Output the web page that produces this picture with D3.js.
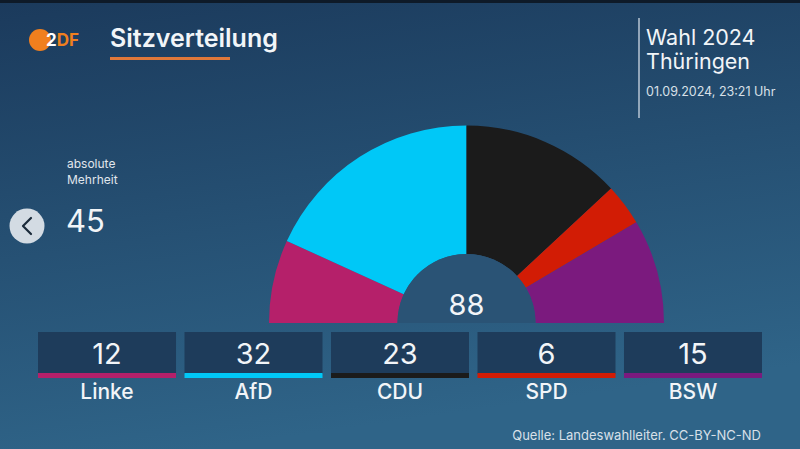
<!DOCTYPE html>
<html>
<head>
<meta charset="utf-8">
<script src="https://cdn.jsdelivr.net/npm/d3@7"></script>
<style>
  html, body { margin: 0; padding: 0; overflow: hidden; }
  body { width: 800px; height: 449px; font-family: Inter, "Noto Sans", sans-serif; }
</style>
</head>
<body>
<div id="chart"></div>
<script>
// Data
const parties = ["Linke", "AfD", "CDU", "SPD", "BSW"];
const seats = [12, 32, 23, 6, 15];
const partyColors = ["#b5206a", "#00c8f7", "#1b1b1b", "#d21c05", "#7b1a7e"];
const totalSeats = 88;
const majority = 45;

const width = 800, height = 449;

const svg = d3.select("#chart").append("svg")
    .attr("width", width)
    .attr("height", height);

// Background gradient
const defs = svg.append("defs");
const grad = defs.append("linearGradient")
    .attr("id", "bg")
    .attr("x1", 0).attr("y1", 0).attr("x2", 0.25).attr("y2", 1);
grad.append("stop").attr("offset", "0%").attr("stop-color", "#1b3a5c");
grad.append("stop").attr("offset", "100%").attr("stop-color", "#2f6488");

svg.append("rect").attr("width", width).attr("height", height).attr("fill", "url(#bg)");
svg.append("rect").attr("width", width).attr("height", 3).attr("fill", "#0e1a28");

// Header: logo + title
svg.append("circle").attr("cx", 40).attr("cy", 40).attr("r", 11).attr("fill", "#f07f1e");
svg.append("text")
    .attr("x", 46).attr("y", 46)
    .attr("font-size", 17).attr("font-weight", 700)
    .attr("fill", "#f07f1e")
    .attr("letter-spacing", 0)
    .call(t => {
        t.append("tspan").attr("fill", "#ffffff").text("2");
        t.append("tspan").text("DF");
    });

svg.append("text")
    .attr("x", 110).attr("y", 47)
    .attr("font-size", 25).attr("font-weight", 600)
    .attr("fill", "#f2f5f8")
    .text("Sitzverteilung");
svg.append("rect")
    .attr("x", 110).attr("y", 57).attr("width", 120).attr("height", 3)
    .attr("fill", "#e0783a");

// Right header
svg.append("line")
    .attr("x1", 639).attr("x2", 639).attr("y1", 18).attr("y2", 118)
    .attr("stroke", "#b8c6d4").attr("stroke-width", 1.5);
svg.append("text").attr("x", 646).attr("y", 45)
    .attr("font-size", 21.5).attr("fill", "#f2f5f8").text("Wahl 2024");
svg.append("text").attr("x", 646).attr("y", 69)
    .attr("font-size", 21.5).attr("fill", "#f2f5f8").text("Thüringen");
svg.append("text").attr("x", 646).attr("y", 96)
    .attr("font-size", 12.5).attr("fill", "#d8e0e8").text("01.09.2024, 23:21 Uhr");

// Majority info
svg.append("text").attr("x", 67).attr("y", 168)
    .attr("font-size", 12).attr("fill", "#e0e6ec").text("absolute");
svg.append("text").attr("x", 67).attr("y", 184)
    .attr("font-size", 12).attr("fill", "#e0e6ec").text("Mehrheit");
svg.append("text").attr("x", 66).attr("y", 232)
    .attr("font-size", 31).attr("fill", "#f2f5f8").text(majority);

// Back button
svg.append("circle").attr("cx", 27).attr("cy", 226).attr("r", 17.5).attr("fill", "#d3dbe3");
svg.append("path")
    .attr("d", "M31,218 L23,226 L31,234")
    .attr("fill", "none").attr("stroke", "#1a2a3a").attr("stroke-width", 2.2)
    .attr("stroke-linecap", "round").attr("stroke-linejoin", "round");

// Half donut
const cx = 466.5, cy = 323;
const outerR = 197.5, innerR = 69;

const pie = d3.pie()
    .sort(null)
    .value(d => d)
    .startAngle(-Math.PI / 2)
    .endAngle(Math.PI / 2);

const arc = d3.arc().innerRadius(innerR).outerRadius(outerR);

const g = svg.append("g").attr("transform", `translate(${cx},${cy})`);
g.selectAll("path")
    .data(pie(seats))
    .join("path")
    .attr("d", arc)
    .attr("fill", (d, i) => partyColors[i]);

g.append("path")
    .attr("d", d3.arc().innerRadius(0).outerRadius(innerR)
        .startAngle(-Math.PI / 2).endAngle(Math.PI / 2)())
    .attr("fill", "#2a5375");

g.append("text")
    .attr("x", 0).attr("y", -8)
    .attr("text-anchor", "middle")
    .attr("font-size", 29).attr("fill", "#f2f5f8")
    .text(totalSeats);

// Party boxes
const x = d3.scaleBand()
    .domain(parties)
    .range([38, 762])
    .paddingInner(0.058);

const box = svg.append("g").selectAll("g")
    .data(parties)
    .join("g")
    .attr("transform", d => `translate(${x(d)},0)`);

box.append("rect")
    .attr("y", 332).attr("width", x.bandwidth()).attr("height", 42)
    .attr("fill", "#1e3c5b");
box.append("rect")
    .attr("y", 373).attr("width", x.bandwidth()).attr("height", 5)
    .attr("fill", (d, i) => partyColors[i]);
box.append("text")
    .attr("x", x.bandwidth() / 2).attr("y", 364)
    .attr("text-anchor", "middle")
    .attr("font-size", 29).attr("fill", "#f2f5f8")
    .text((d, i) => seats[i]);
box.append("text")
    .attr("x", x.bandwidth() / 2).attr("y", 399)
    .attr("text-anchor", "middle")
    .attr("font-size", 21).attr("font-weight", 500).attr("fill", "#f2f5f8")
    .text(d => d);

// Source
svg.append("text")
    .attr("x", 761).attr("y", 440)
    .attr("text-anchor", "end")
    .attr("font-size", 13).attr("fill", "#d8e0e8")
    .text("Quelle: Landeswahlleiter. CC-BY-NC-ND");
</script>
</body>
</html>
